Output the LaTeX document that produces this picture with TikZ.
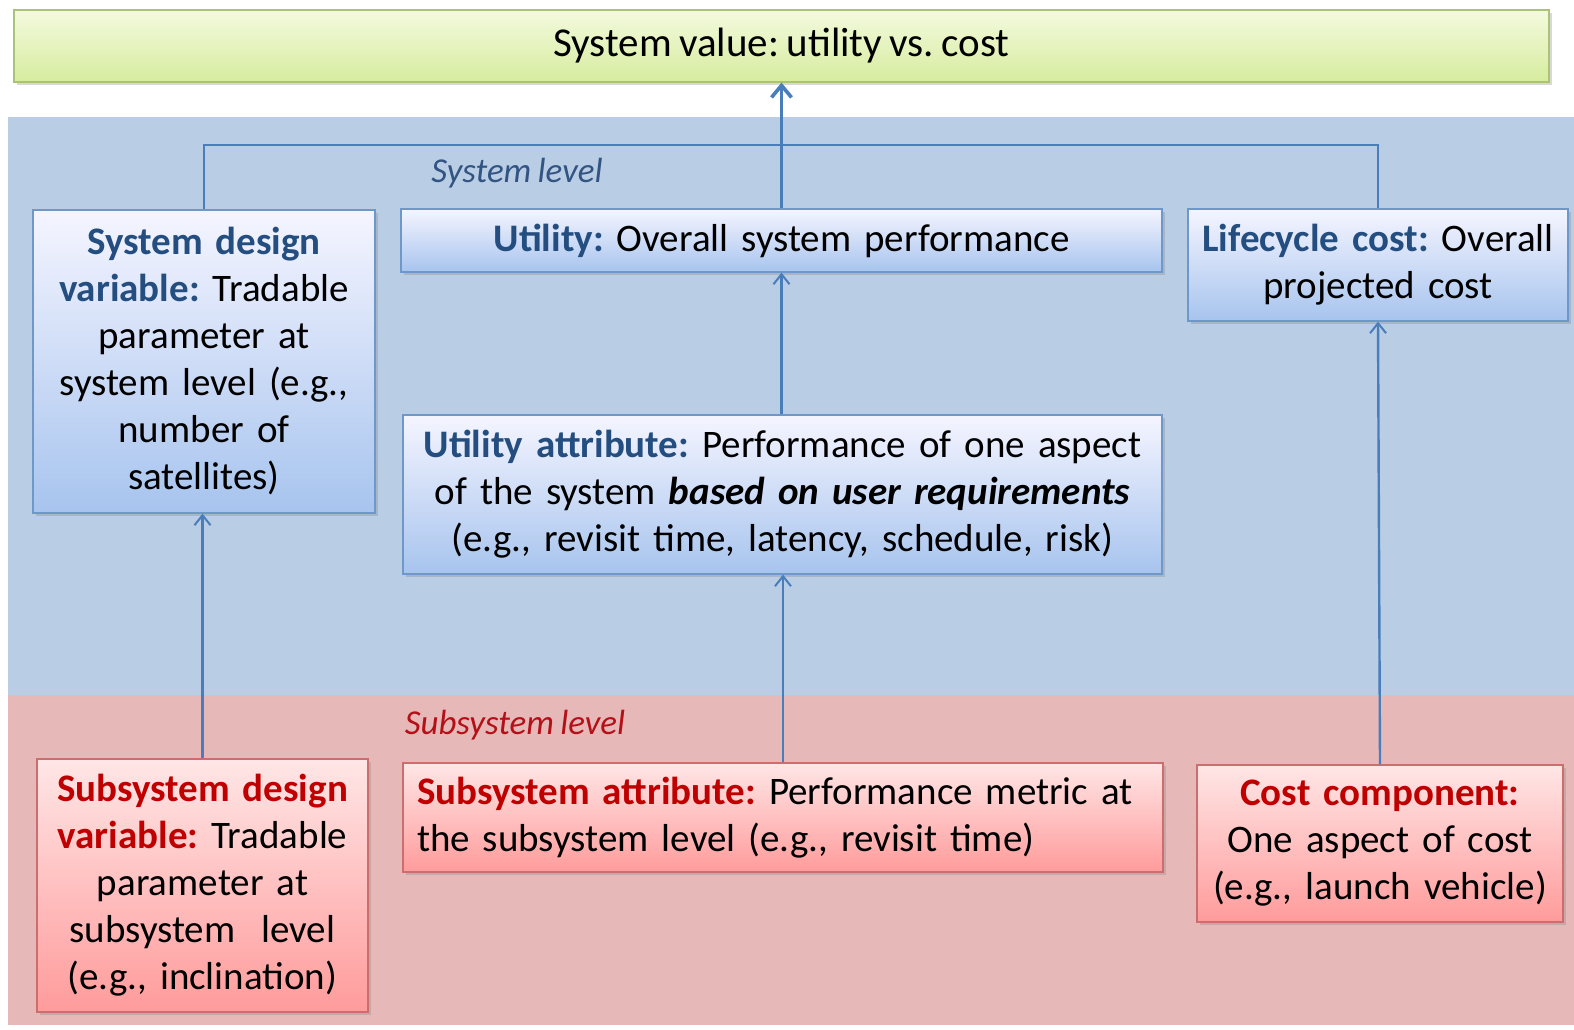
\documentclass[tikz,border=0pt]{standalone}
\usepackage{fontspec}
\setmainfont{Carlito}[WordSpace=0.8]
\usetikzlibrary{arrows.meta,shadows}
\frenchspacing

\definecolor{bandblue}{HTML}{B9CDE5}
\definecolor{bandred}{HTML}{E6B9B8}
\definecolor{linkblue}{HTML}{4A7EBB}
\definecolor{headblue}{RGB}{36,78,128}
\definecolor{headred}{RGB}{192,0,0}
\definecolor{lvlblue}{RGB}{50,84,130}
\definecolor{lvlred}{RGB}{180,16,24}

\tikzset{
  boxbase/.style={draw, line width=0.6pt, inner sep=0pt, align=center,
    font=\fontsize{19.5}{23.5}\selectfont,
    drop shadow={shadow xshift=1.5pt, shadow yshift=-1.5pt, opacity=0.3}},
  bluebox/.style={boxbase, draw=linkblue!80, top color=blue!4!white, bottom color={rgb,255:red,167;green,196;blue,238}},
  redbox/.style={boxbase, draw={rgb,255:red,205;green,110;blue,110}, top color={rgb,255:red,255;green,230;blue,230}, bottom color={rgb,255:red,255;green,155;blue,155}},
  greenbox/.style={boxbase, draw={rgb,255:red,170;green,195;blue,120}, top color={rgb,255:red,244;green,250;blue,222}, bottom color={rgb,255:red,214;green,236;blue,158},
    font=\fontsize{20.5}{24}\selectfont},
  link/.style={draw=linkblue, line width=1.2pt, -{Straight Barb[length=5pt,width=8pt,line width=1pt]}},
  plainlink/.style={draw=linkblue, line width=1.2pt},
  toplink/.style={draw=linkblue, line width=1.6pt, -{Straight Barb[length=6pt,width=10pt,line width=1.8pt]}},
  lvl/.style={font=\fontsize{17.5}{20}\selectfont\itshape, inner sep=0pt}
}
\newcommand{\hb}[1]{\textbf{\color{headblue}#1}}
\newcommand{\hr}[1]{\textbf{\color{headred}#1}}

\begin{document}
\begin{tikzpicture}[x=0.5pt,y=-0.5pt]
\useasboundingbox (0,0) rectangle (1574,1029);
\fill[white] (0,0) rectangle (1574,1029);

% level bands
\fill[bandblue] (8,117) rectangle (1574,695);
\fill[bandred] (8,695) rectangle (1574,1025);

% top result box
\node[greenbox, minimum width=767.5pt, minimum height=36pt] (top) at (781.5,46) {System value: utility vs. cost};

% system level
\node[bluebox, text width=171pt, minimum height=151.5pt] (sdv) at (204,361.5)
  {\hb{System design}\\ \hb{variable:} Tradable\\ parameter at\\ system level (e.g.,\\ number of\\ satellites)};
\node[bluebox, text width=380.5pt, minimum height=31.5pt] (util) at (781.5,240.5)
  {\hb{Utility:} Overall system performance};
\node[bluebox, text width=190pt, minimum height=56pt] (lcc) at (1378,265)
  {\hb{Lifecycle cost:} Overall\\ projected cost};
\node[bluebox, text width=379.5pt, minimum height=79.5pt] (uattr) at (782.5,494.5)
  {\hb{Utility attribute:} Performance of one aspect\\ of the system \textbf{\textit{based on user requirements}}\\ (e.g., revisit time, latency, schedule, risk)};

% subsystem level
\node[redbox, text width=165.5pt, minimum height=126.5pt] (ssdv) at (202.5,885.5)
  {\hr{Subsystem design}\\ \hr{variable:} Tradable\\ parameter at\\ subsystem~ level\\ (e.g., inclination)};
\node[redbox, align=left, inner xsep=7pt, text width=366pt, minimum height=54.5pt] (sattr) at (783,817.5)
  {\hr{Subsystem attribute:} Performance metric at\\ the subsystem level (e.g., revisit time)};
\node[redbox, text width=183pt, minimum height=78.5pt] (cc) at (1380,843.5)
  {\hr{Cost component:}\\ One aspect of cost\\ (e.g., launch vehicle)};

% level labels
\node[lvl, text=lvlblue] (lblsys) at (517,173) {System level};
\node[lvl, text=lvlred] (lblsub) at (515,725) {Subsystem level};

% connectors
\coordinate (j) at (781.5,145);
\draw[plainlink] (sdv.north) |- (j) -| (lcc.north);
\draw[toplink] (util.north) -- (top.south);
\draw[link] (uattr.north -| util.south) -- (util.south);
\draw[link] (sattr.north) -- (sattr.north |- uattr.south);
\draw[link] (ssdv.north) -- (ssdv.north |- sdv.south);
\draw[link] (cc.north) -- (lcc.south);
\end{tikzpicture}
\end{document}
